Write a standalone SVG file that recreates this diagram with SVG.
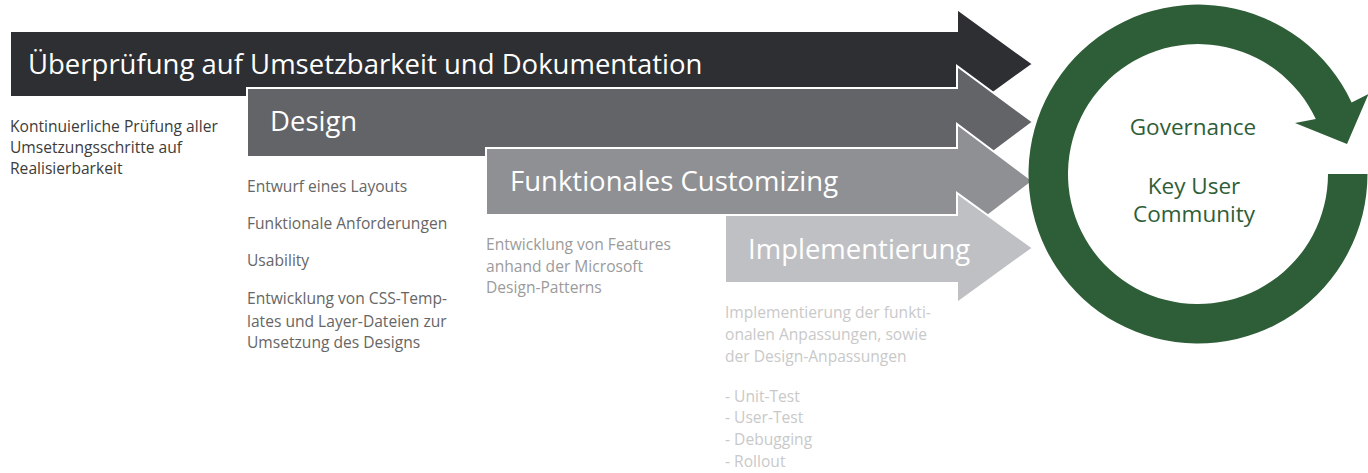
<svg xmlns="http://www.w3.org/2000/svg" width="1368" height="473" viewBox="0 0 1368 473">
<style>
.arr{stroke:#ffffff;stroke-width:2;stroke-linejoin:miter}
.t{font-family:"Open Sans","Noto Sans","Liberation Sans",sans-serif}
.title{font-size:27.5px;fill:#ffffff}
.body{font-size:15.6px}
.g{fill:#2e5e37;font-size:22.5px;text-anchor:middle}
</style>
<rect width="1368" height="473" fill="#ffffff"/>
<g id="arrow-ueberpruefung">
<polygon class="arr" fill="#2d2f33" points="10,31 957,31 957,9 1033,64 957,119 957,97 10,97"/>
<text class="t title" x="28" y="74">Überprüfung auf Umsetzbarkeit und Dokumentation</text>
<g class="t body" fill="#3c3c3c">
<text x="10" y="132">Kontinuierliche Prüfung aller</text>
<text x="10" y="153">Umsetzungsschritte auf</text>
<text x="10" y="174">Realisierbarkeit</text>
</g>
</g>
<g id="arrow-design">
<polygon class="arr" fill="#636468" points="247,88 957,88 957,66 1033,122 957,179 957,157 247,157"/>
<text class="t title" x="270" y="131">Design</text>
<g class="t body" fill="#666666">
<text x="247" y="192">Entwurf eines Layouts</text>
<text x="247" y="229">Funktionale Anforderungen</text>
<text x="247" y="266">Usability</text>
<text x="247" y="304">Entwicklung von CSS-Temp-</text>
<text x="247" y="327">lates und Layer-Dateien zur</text>
<text x="247" y="348">Umsetzung des Designs</text>
</g>
</g>
<g id="arrow-customizing">
<polygon class="arr" fill="#8f9094" points="486,148 957,148 957,124 1033,181 957,239 957,215 486,215"/>
<text class="t title" x="510" y="191">Funktionales Customizing</text>
<g class="t body" fill="#9b9b9b">
<text x="486" y="250">Entwicklung von Features</text>
<text x="486" y="272">anhand der Microsoft</text>
<text x="486" y="293">Design-Patterns</text>
</g>
</g>
<g id="arrow-implementierung">
<polygon class="arr" fill="#bfc0c3" points="725,215 957,215 957,193 1033,248 957,303 957,283 725,283"/>
<text class="t title" x="748" y="259">Implementierung</text>
<g class="t body" fill="#c9c9c9">
<text x="725" y="318">Implementierung der funkti-</text>
<text x="725" y="340">onalen Anpassungen, sowie</text>
<text x="725" y="362">der Design-Anpassungen</text>
<text x="725" y="402">- Unit-Test</text>
<text x="725" y="423">- User-Test</text>
<text x="725" y="445">- Debugging</text>
<text x="725" y="467">- Rollout</text>
</g>
</g>
<g id="governance-cycle">
<path fill="#2e5e37" d="M1367.5,174 A169.5,169.5 0 1 1 1351.6,102.4 L1368.5,94 L1347,144 L1295,123 L1315.8,119.1 A130,130 0 1 0 1328,174 Z"/>
<text class="t g" x="1193" y="135">Governance</text>
<text class="t g" x="1194" y="194">Key User</text>
<text class="t g" x="1194" y="222">Community</text>
</g>
</svg>
